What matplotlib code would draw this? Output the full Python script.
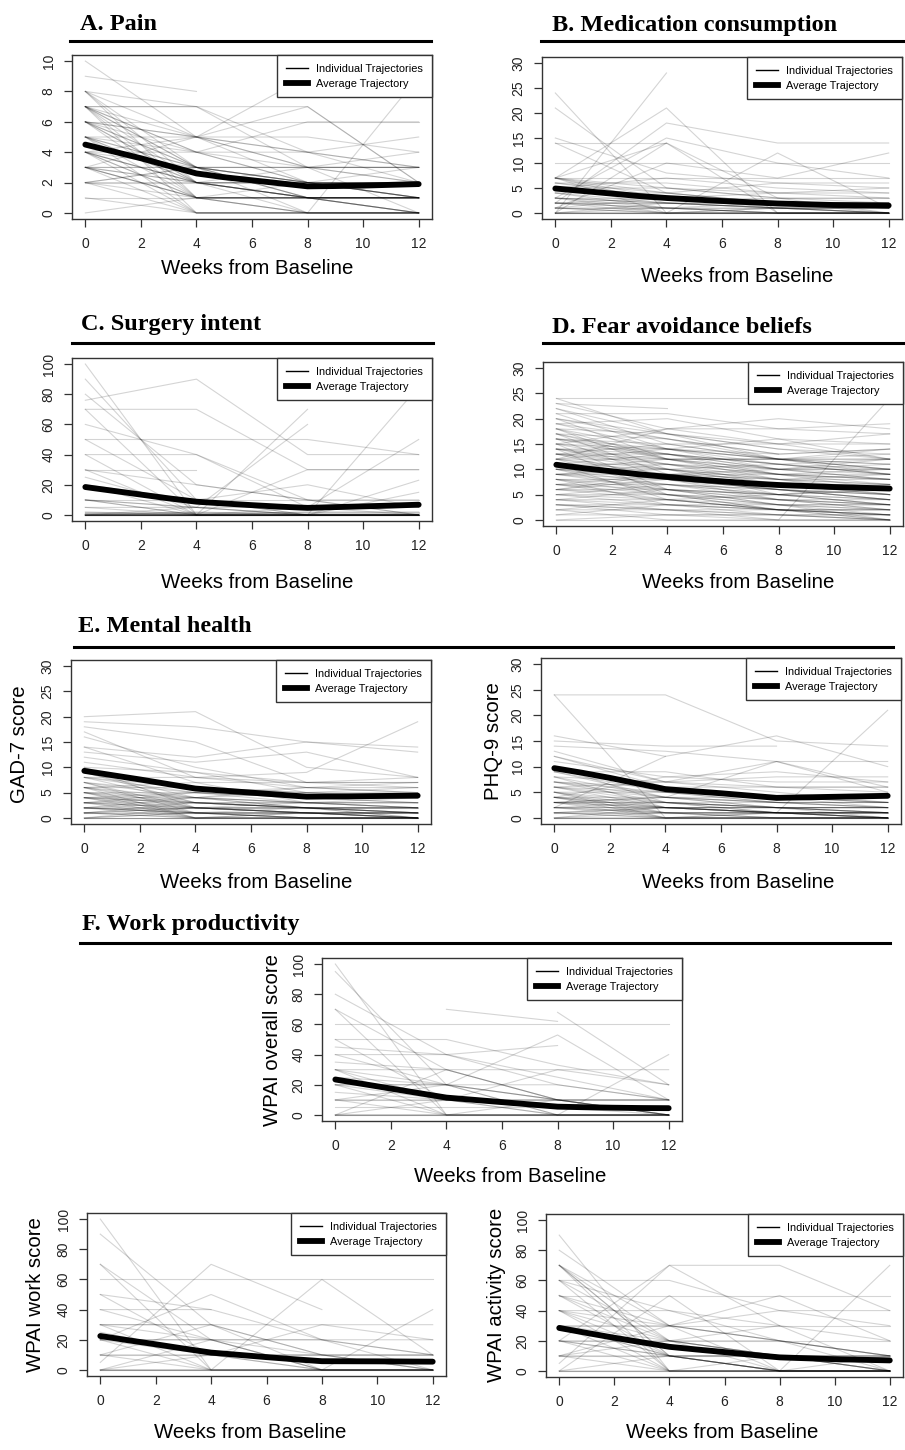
"""
Trajectory panels: individual patient trajectories (grey) plus the
average trajectory (thick black) for each outcome, weeks 0-12.
"""

import numpy as np
import matplotlib
matplotlib.use('Agg')
import matplotlib.pyplot as plt
from matplotlib.lines import Line2D

W, H = 905, 1450
SANS = ['Liberation Sans', 'DejaVu Sans']
SERIF = ['Liberation Serif', 'DejaVu Serif']

# ── Data: values at weeks 0, 4, 8, 12 (None = missing) ─────────────
WEEKS = [0, 4, 8, 12]
AVG_WEEKS = list(range(13))
X_TICKS = [0, 2, 4, 6, 8, 10, 12]

PAIN_TRAJ = [
    [10, 5, 3, 2], [9, 8, None, None], [8, 1, 1, 0], [8, 5, 3, 3],
    [8, 3, 2, 1], [7, 7, 7, 2], [7, 2, 1, 1], [7, 4, 2, 1], [7, 0, 0, 0],
    [7, 3, 3, 3], [6, 5, 2, 1], [6, 3, 2, 2], [6, 1, 1, 1], [6, 2, 0, 0],
    [6, 4, 6, 6], [5, 3, 2, 2], [5, 5, 4, 5], [5, 2, 1, 0], [5, 1, 1, 1],
    [4, 2, 1, 1], [4, 3, 2, 2], [4, 1, 0, 0], [4, 2, 3, 3], [4, 0, 0, 0],
    [4, 4, 2, 2], [3, 1, 1, 1], [3, 3, 3, 3], [3, 2, 2, 1], [3, 0, 0, 0],
    [3, 1, 2, 2], [3, 5, 7, 2], [2, 1, 1, 0], [2, 2, 1, 1], [2, 0, 0, 0],
    [2, 3, 1, 1], [1, 1, 1, 1], [1, 0, 0, 0], [0, 1, 0, 0], [4, 5, 9, None],
    [2, 3, 0, 9], [6, 6, 6, 6], [7, 5, 5, 4], [8, 7, 4, 2], [7, 7, 3, 0],
    [5, 4, 3, 4], [3, 2, 1, 1], [7, 1, 1, 0], [6, 2, 1, 0], [7, 3, 1, 1],
    [6, 3, 3, 2], [5, 2, 2, 1], [4, 2, 2, 3], [3, 3, 2, 1], [2, 2, 2, 2],
    [7, 4, 4, 3], [5, 0, 0, 0], [4, 1, 1, 1], [3, 1, 0, 0], [6, 5, 4, 3],
    [8, 2, 1, 1], [5, 3, 1, 1],
]
PAIN_AVG = [4.5, 4.05, 3.6, 3.1, 2.6, 2.35, 2.15, 1.95, 1.75, 1.77, 1.8, 1.85, 1.9]

MED_TRAJ = [
    [24, 0, 0, 0], [21, 5, 3, 2], [15, 8, 6, 5], [14, 14, None, None],
    [14, 4, 2, 1], [10, 10, 10, 10], [7, 7, 7, 7], [7, 3, 1, 0],
    [7, 14, 0, 0], [7, 0, 0, 0], [7, 5, 4, 3], [6, 4, 2, 2], [5, 3, 2, 2],
    [7, 21, 0, 0], [0, 28, None, None], [2, 18, 14, 14], [3, 15, 10, 7],
    [0, 14, 3, 0], [1, 10, 7, 12], [0, 0, 12, 1], [3, 2, 1, 0], [2, 1, 0, 0],
    [1, 1, 1, 1], [0, 0, 0, 0], [0, 0, 0, 0], [3, 3, 3, 3], [2, 2, 2, 2],
    [1, 0, 1, 0], [0, 2, 1, 1], [4, 4, 6, 6], [5, 7, 5, 4], [2, 0, 0, 0],
    [1, 3, 2, 2], [0, 1, 0, 0], [6, 3, 4, 5], [3, 1, 2, 1], [2, 1, 1, 0],
    [7, 2, 1, 1], [7, 4, 2, 0], [4, 2, 1, 1], [3, 0, 0, 0], [2, 2, 1, 1],
    [1, 0, 0, 0], [0, 0, 0, 0], [5, 5, 3, 3], [4, 1, 0, 0], [2, 3, 2, 1],
    [1, 1, 0, 0], [0, 0, 1, 0], [3, 2, 2, 2], [6, 6, 4, 4],
]
MED_AVG = [4.9, 4.4, 3.9, 3.4, 3.0, 2.7, 2.4, 2.15, 1.9, 1.75, 1.6, 1.55, 1.5]

SURG_TRAJ = [
    [100, 0, 0, 0], [90, 10, 0, 0], [80, 20, 10, 0], [76, 90, 40, 40],
    [70, 0, 0, 0], [70, 70, 30, 30], [60, 40, 5, 0], [50, 50, 50, 40],
    [50, 10, 0, 0], [40, 0, 0, 0], [40, 40, 10, 0], [30, 0, 0, 0],
    [30, 20, 10, 10], [30, 30, None, None], [20, 10, 20, 5], [10, 5, 0, 0],
    [10, 0, 0, 0], [10, 10, 10, 10], [5, 0, 0, 0], [2, 0, 0, 0], [0, 0, 0, 0],
    [0, 0, 0, 0], [0, 0, 70, None], [0, 5, 60, None], [0, 0, 0, 85],
    [0, 0, 5, 50], [0, 0, 0, 15], [0, 2, 0, 23], [0, 0, 30, 30], [1, 1, 1, 1],
    [0, 0, 2, 2], [20, 0, 0, 0], [25, 5, 0, 0], [10, 0, 0, 0], [0, 0, 0, 0],
    [0, 0, 0, 0], [0, 0, 0, 0], [5, 5, 0, 0], [2, 2, 2, 2], [0, 1, 0, 0],
    [10, 5, 5, 5], [0, 0, 0, 0], [1, 0, 0, 0],
]
SURG_AVG = [18.5, 16.0, 13.5, 11.0, 8.8, 7.6, 6.5, 5.5, 4.7, 5.2, 5.7, 6.2, 6.8]

FEAR_TRAJ = [
    [24, 24, 24, None], [23, 22, None, None], [23, 18, 15, 12], [22, 17, 14, 13],
    [22, 15, 12, 10], [21, 21, 18, 19], [21, 14, 10, 8], [20, 16, 13, 14],
    [20, 12, 8, 5], [19, 20, 16, 15], [19, 14, 12, 12], [18, 17, 15, 17],
    [18, 12, 9, 6], [18, 10, 5, 3], [17, 16, 12, 10], [17, 13, 11, 9],
    [17, 9, 6, 4], [16, 15, 15, 15], [16, 12, 10, 11], [16, 8, 4, 2],
    [15, 14, 12, 12], [15, 11, 7, 5], [15, 6, 3, 0], [14, 14, 13, 14],
    [14, 12, 12, 11], [14, 10, 7, 6], [14, 5, 2, 0], [13, 13, 11, 10],
    [13, 10, 9, 8], [13, 8, 5, 4], [12, 12, 10, 9], [12, 9, 8, 7],
    [12, 6, 3, 1], [12, 14, 16, 12], [11, 11, 9, 8], [11, 9, 7, 6],
    [11, 4, 2, 0], [10, 10, 8, 8], [10, 8, 6, 5], [10, 12, 12, 14],
    [10, 5, 2, 1], [9, 9, 7, 7], [9, 7, 5, 3], [9, 11, 10, 10], [8, 8, 6, 5],
    [8, 6, 4, 3], [8, 3, 1, 0], [7, 7, 6, 5], [7, 5, 4, 4], [7, 9, 8, 9],
    [6, 6, 5, 4], [6, 4, 2, 2], [6, 8, 7, 6], [5, 5, 4, 3], [5, 3, 2, 1],
    [5, 7, 6, 4], [4, 4, 3, 3], [4, 2, 1, 0], [3, 3, 3, 2], [3, 1, 0, 0],
    [2, 2, 2, 1], [2, 0, 0, 0], [1, 1, 1, 0], [0, 0, 0, 0], [3, 2, 0, 24],
    [12, 18, 20, 18], [15, 18, 18, 17], [19, 16, 13, None], [24, 17, 14, 12],
    [11, 13, 10, 12], [9, 10, 11, 12], [13, 15, 12, 13], [6, 9, 10, 10],
    [4, 6, 5, 7], [2, 4, 5, 6], [1, 3, 2, 2], [0, 1, 1, 1], [16, 13, 9, 7],
    [20, 17, 12, 9], [14, 11, 9, 10], [10, 9, 9, 8], [8, 7, 5, 6],
    [18, 14, 11, 9], [17, 12, 12, 10], [15, 13, 10, 8], [13, 11, 8, 7],
    [12, 10, 8, 6], [11, 10, 7, 5], [10, 7, 4, 3], [9, 8, 6, 4],
    [8, 5, 3, 2], [7, 4, 2, 1], [6, 5, 3, 3], [5, 4, 2, 2], [4, 3, 2, 1],
    [3, 2, 1, 1], [16, 14, 12, 11], [14, 13, 11, 9], [13, 12, 9, 9],
    [11, 8, 6, 4], [9, 6, 4, 2], [7, 6, 5, 3],
]
FEAR_AVG = [10.9, 10.2, 9.6, 9.0, 8.5, 8.0, 7.6, 7.2, 6.9, 6.7, 6.5, 6.35, 6.2]

GAD_TRAJ = [
    [20, 21, 10, 8], [19, 18, 15, 14], [18, 15, 7, 7], [17, 8, 9, 19],
    [16, 10, 6, 5], [14, 7, 3, 2], [14, 12, 15, 13], [13, 11, 13, 8],
    [10, 9, 5, 6], [9, 6, 5, 5], [9, 3, 2, 1], [8, 8, 7, 7], [8, 5, 4, 3],
    [7, 4, 3, 3], [7, 2, 1, 0], [6, 6, 5, 4], [6, 3, 2, 2], [5, 5, 4, 4],
    [5, 2, 1, 0], [5, 0, 0, 0], [4, 4, 3, 3], [4, 2, 2, 1], [4, 1, 0, 0],
    [3, 3, 2, 2], [3, 1, 1, 1], [3, 0, 0, 0], [2, 2, 1, 1], [2, 0, 0, 0],
    [2, 1, 1, 0], [1, 1, 1, 1], [1, 0, 0, 0], [0, 0, 0, 0], [0, 0, 0, 0],
    [0, 1, 0, 0], [3, 5, 6, 7], [2, 4, 6, 6], [1, 2, 3, 4], [6, 7, 7, 8],
    [12, 9, 7, 6], [11, 8, 6, 5], [4, 3, 2, 2], [1, 1, 0, 0],
    [7, 5, 3, 2], [6, 2, 2, 1], [5, 3, 3, 2], [4, 0, 1, 0], [3, 2, 1, 0],
    [2, 3, 2, 1], [1, 2, 1, 0], [0, 2, 1, 1], [8, 3, 2, 0], [6, 0, 0, 0],
    [5, 4, 3, 2], [4, 5, 4, 3], [3, 4, 2, 2], [2, 1, 0, 0], [1, 0, 1, 0],
    [0, 0, 0, 0], [7, 1, 0, 0], [9, 4, 2, 2], [10, 2, 1, 1], [3, 2, 2, 0],
    [2, 2, 2, 2], [0, 1, 1, 1], [5, 1, 1, 1], [4, 3, 3, 3], [8, 6, 4, 4],
    [2, 1, 2, 1], [1, 3, 2, 1], [6, 4, 5, 4],
]
GAD_AVG = [9.3, 8.45, 7.6, 6.7, 5.8, 5.4, 5.0, 4.6, 4.2, 4.25, 4.3, 4.35, 4.4]

PHQ_TRAJ = [
    [24, 24, 15, 14], [24, 0, 0, 0], [16, 12, 16, 10], [15, 14, 14, None],
    [14, 13, 11, 6], [13, 7, 5, 3], [12, 6, 4, 3], [2, 12, None, None],
    [11, 8, 7, 7], [10, 6, 4, 2], [9, 5, 3, 2], [8, 7, 8, 8], [8, 4, 2, 1],
    [7, 3, 2, 1], [7, 6, 6, 6], [6, 4, 3, 2], [6, 2, 1, 0], [5, 5, 4, 4],
    [5, 2, 1, 1], [5, 1, 0, 0], [4, 4, 3, 3], [4, 2, 2, 2], [4, 0, 0, 0],
    [3, 3, 3, 3], [3, 1, 1, 0], [3, 2, 2, 2], [2, 2, 1, 1], [2, 0, 0, 0],
    [2, 1, 1, 1], [1, 1, 1, 1], [1, 0, 0, 0], [0, 0, 0, 0], [0, 0, 0, 0],
    [0, 1, 1, 21], [3, 4, 11, 11], [4, 8, 9, 7], [6, 7, 11, 5], [9, 9, 6, 6],
    [1, 2, 2, 2], [3, 2, 1, 1], [0, 0, 1, 0], [7, 4, 2, 2], [6, 3, 1, 0],
    [5, 3, 2, 1], [4, 1, 1, 0], [3, 0, 0, 0], [2, 3, 2, 1], [1, 2, 1, 0],
    [0, 2, 1, 1], [8, 2, 1, 1], [5, 0, 0, 0], [4, 3, 2, 2], [3, 4, 3, 2],
    [2, 1, 0, 0], [1, 0, 1, 0], [0, 0, 0, 0], [10, 3, 2, 1], [9, 4, 4, 3],
    [6, 5, 3, 3], [2, 2, 2, 0], [1, 1, 0, 0], [4, 2, 1, 1], [7, 5, 4, 3],
    [3, 3, 1, 1], [12, 7, 6, 5],
]
PHQ_AVG = [9.7, 8.8, 7.8, 6.7, 5.6, 5.2, 4.8, 4.35, 3.9, 4.0, 4.1, 4.2, 4.3]

WPAI_OVERALL_TRAJ = [
    [100, 0, 0, 0], [95, 20, 10, 0], [80, 40, 20, 10], [70, 0, 0, 0],
    [70, 30, 10, 0], [60, 60, 60, 60], [50, 50, 33, 20], [50, 10, 0, 0],
    [40, 40, 25, 10], [40, 20, 10, 0], [35, 30, 30, 30], [30, 20, 20, 10],
    [30, 0, 0, 0], [30, 10, 5, 0], [25, 20, 53, 10], [20, 20, 10, 10],
    [20, 0, 0, 0], [15, 10, 10, 10], [10, 10, 10, 10], [10, 0, 0, 0],
    [10, 20, 0, 0], [0, 0, 0, 0], [0, 30, 10, 0], [0, 0, 0, 40],
    [0, 10, 30, 20], [None, 70, 62, None], [None, None, 68, 20],
    [45, 40, 46, None], [5, 5, 5, 5], [20, 20, 0, 0], [10, 10, 0, 0],
    [0, 0, 0, 0], [30, 30, 10, 10], [20, 10, 10, 0], [0, 0, 10, 0],
]
WPAI_OVERALL_AVG = [23.5, 20.5, 17.5, 14.5, 11.5, 10.0, 8.5, 7.0, 5.5, 5.1, 4.8, 4.6, 4.5]

WPAI_WORK_TRAJ = [
    [100, 0, 0, 0], [90, 30, 10, 0], [70, 0, 0, 0], [70, 20, 0, 0],
    [60, 60, 60, 60], [50, 40, None, None], [50, 10, 0, 0], [40, 40, 20, 10],
    [40, 20, 0, 0], [30, 30, 30, 20], [30, 0, 0, 0], [30, 20, 20, 10],
    [25, 10, 10, 10], [20, 20, 10, 0], [20, 0, 0, 0], [10, 10, 10, 10],
    [10, 0, 0, 0], [10, 30, 0, 0], [0, 0, 0, 0], [5, 70, 40, None],
    [0, 0, 60, 10], [0, 0, 0, 40], [0, 10, 30, 30], [20, 50, 20, 20],
    [20, 20, 0, 0], [10, 10, 0, 0], [0, 0, 0, 0], [30, 30, 10, 10],
    [20, 10, 10, 0], [0, 20, 20, 0],
]
WPAI_WORK_AVG = [22.5, 19.7, 17.0, 14.2, 11.5, 10.0, 8.5, 7.1, 5.8, 5.75, 5.7, 5.6, 5.5]

WPAI_ACT_TRAJ = [
    [90, 0, 0, 0], [80, 30, 20, 10], [70, 0, 0, 0], [70, 10, 0, 0],
    [70, 30, 50, 20], [70, 20, 30, 0], [60, 60, 40, 40], [60, 0, 0, 0],
    [60, 40, 30, 20], [50, 50, 50, 50], [50, 10, 0, 0], [50, 30, 20, 10],
    [40, 40, 20, 0], [40, 0, 0, 0], [40, 20, 10, 10], [30, 30, 30, 30],
    [30, 10, 10, 0], [30, 0, 10, 0], [30, 20, 20, 10], [20, 20, 10, 10],
    [20, 0, 0, 0], [20, 10, 0, 0], [10, 10, 10, 10], [10, 0, 0, 0],
    [10, 20, 10, 0], [0, 0, 0, 0], [5, 70, 70, 40], [0, 10, 0, 70],
    [20, 70, 30, None], [0, 50, 0, 0], [10, 30, 40, 30], [0, 0, 0, 10],
    [20, 10, 10, 0], [50, 20, 0, 0], [40, 30, 0, 0], [70, 10, 10, 0],
    [60, 20, 10, 10], [30, 30, 20, 10], [20, 20, 20, 20], [10, 10, 0, 0],
    [0, 0, 0, 0], [40, 10, 0, 0], [30, 10, 0, 0],
]
WPAI_ACT_AVG = [28.5, 25.2, 22.0, 19.0, 16.0, 14.2, 12.5, 10.7, 9.0, 8.4, 7.8, 7.4, 7.0]

# ── Panel layout (pixel boxes: left, top, right, bottom) ───────────
PANELS = [
    # traj, avg, ymax, ystep, box, xlabel pos, ylabel, ylabel pos
    (PAIN_TRAJ, PAIN_AVG, 10, 2, (72, 55, 432, 219), (257, 268), None, None),
    (MED_TRAJ, MED_AVG, 30, 5, (542, 57, 902, 219), (737, 276), None, None),
    (SURG_TRAJ, SURG_AVG, 100, 20, (72, 358, 432, 521), (257, 583), None, None),
    (FEAR_TRAJ, FEAR_AVG, 30, 5, (543, 362, 903, 526), (738, 583), None, None),
    (GAD_TRAJ, GAD_AVG, 30, 5, (71, 660, 431, 824), (256, 883), 'GAD-7 score', (20, 744)),
    (PHQ_TRAJ, PHQ_AVG, 30, 5, (541, 658, 901, 824), (738, 883), 'PHQ-9 score', (493, 741)),
    (WPAI_OVERALL_TRAJ, WPAI_OVERALL_AVG, 100, 20, (322, 958, 682, 1121), (510, 1177),
     'WPAI overall score', (272, 1040)),
    (WPAI_WORK_TRAJ, WPAI_WORK_AVG, 100, 20, (87, 1213, 446, 1376), (250, 1432),
     'WPAI work score', (36, 1295)),
    (WPAI_ACT_TRAJ, WPAI_ACT_AVG, 100, 20, (546, 1214, 903, 1377), (722, 1432),
     'WPAI activity score', (496, 1295)),
]

# section titles: text, x, baseline y, rule x0, rule x1, rule y
SECTIONS = [
    ('A. Pain', 80, 30, 70, 431, 41),
    ('B. Medication consumption', 552, 31, 541, 905, 41),
    ('C. Surgery intent', 81, 330, 72, 433, 343),
    ('D. Fear avoidance beliefs', 552, 333, 543, 905, 343),
    ('E. Mental health', 78, 632, 74, 893, 647),
    ('F. Work productivity', 82, 930, 80, 890, 943),
]


def fx(px):
    return px / W


def fy(py):
    return 1 - py / H


def draw_panel(fig, traj, avg, ymax, ystep, box, xlab_pos, ylab, ylab_pos):
    l, t, r, b = box
    ax = fig.add_axes([fx(l), fy(b), (r - l) / W, (b - t) / H])

    for row in traj:
        vals = np.array([np.nan if v is None else v for v in row], dtype=float)
        ax.plot(WEEKS, vals, color='black', alpha=0.17, lw=0.8)
    ax.plot(AVG_WEEKS, avg, color='black', lw=4.2, solid_capstyle='round',
            solid_joinstyle='round')

    ax.set_xlim(-0.48, 12.48)
    ax.set_ylim(-0.04 * ymax, 1.04 * ymax)
    ax.set_xticks(X_TICKS)
    ax.set_yticks(np.arange(0, ymax + 1, ystep))
    ax.tick_params(length=5.8, width=0.9, color='#333333', pad=7,
                   labelsize=10, labelcolor='#222222')
    ax.tick_params(axis='y', labelrotation=90, pad=6)
    for lab in ax.get_yticklabels():
        lab.set_va('center')
    for lab in ax.get_xticklabels() + ax.get_yticklabels():
        lab.set_family(SANS)
    for s in ax.spines.values():
        s.set_color('#333333')
        s.set_linewidth(1.0)

    handles = [Line2D([], [], color='black', lw=1.0),
               Line2D([], [], color='black', lw=4.2)]
    leg = ax.legend(handles, ['Individual Trajectories', 'Average Trajectory'],
                    loc='upper right', borderaxespad=0, fancybox=False,
                    framealpha=1, edgecolor='#333333', handlelength=2.0,
                    handletextpad=0.8, borderpad=0.8, labelspacing=0.45,
                    prop={'family': SANS, 'size': 7.9})
    leg.get_frame().set_linewidth(1.0)

    fig.text(fx(xlab_pos[0]), fy(xlab_pos[1]), 'Weeks from Baseline',
             ha='center', va='center', fontsize=14.7, family=SANS)
    if ylab:
        fig.text(fx(ylab_pos[0]), fy(ylab_pos[1]), ylab, rotation=90,
                 ha='center', va='center', fontsize=14.7, family=SANS)
    return ax


def main():
    fig = plt.figure(figsize=(W / 100, H / 100), dpi=100)

    for title, tx, ty, x0, x1, ly in SECTIONS:
        fig.text(fx(tx), fy(ty), title, ha='left', va='baseline',
                 fontsize=17.5, fontweight='bold', family=SERIF)
        fig.add_artist(Line2D([fx(x0), fx(x1)], [fy(ly), fy(ly)],
                              color='black', lw=2.2))

    for p in PANELS:
        draw_panel(fig, *p)

    fig.savefig('out.png', dpi=100)
    plt.close('all')


if __name__ == '__main__':
    main()
